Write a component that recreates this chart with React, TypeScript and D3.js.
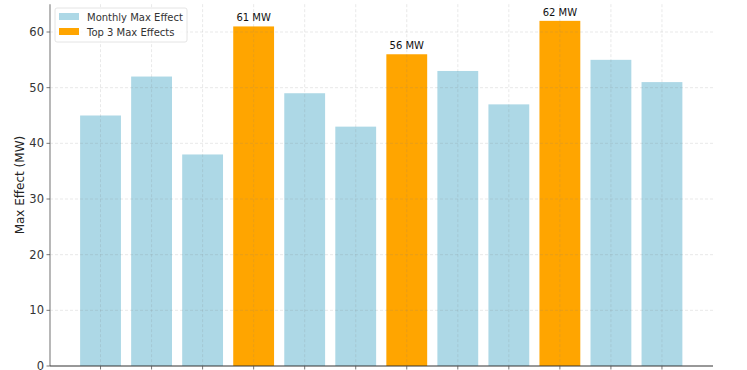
import React, { useEffect, useRef } from 'react';
import * as d3 from 'd3';

// Monthly max effect (MW)
const months = ['Jan', 'Feb', 'Mar', 'Apr', 'May', 'Jun', 'Jul', 'Aug', 'Sep', 'Oct', 'Nov', 'Dec'];
const maxEffect = [45, 52, 38, 61, 49, 43, 56, 53, 47, 62, 55, 51];
const yTicks = [0, 10, 20, 30, 40, 50, 60];

const BLUE = '#ADD8E6';
const ORANGE = '#FFA500';

const App: React.FC = () => {
  const svgRef = useRef<SVGSVGElement>(null);
  const width = 747;
  const height = 370;

  useEffect(() => {
    if (!svgRef.current) return;
    const svg = d3.select(svgRef.current);
    svg.selectAll('*').remove();

    const margin = { top: 4, right: 34, bottom: 4, left: 50 };
    const x0 = margin.left;
    const x1 = width - margin.right;
    const yBottom = height - margin.bottom;

    // top 3 indices
    const top3 = maxEffect
      .map((v, i) => ({ v, i }))
      .sort((a, b) => b.v - a.v)
      .slice(0, 3)
      .map(d => d.i);

    // matplotlib-like continuous x positions
    const x = d3.scaleLinear().domain([-0.99, 12]).range([x0, x1]);
    const step = x(1) - x(0);
    const barW = step * 0.8;

    const y = d3.scaleLinear().domain([0, 60]).range([yBottom, 32]);
    const yTop = y(65);

    const g = svg.append('g').attr('font-family', 'DejaVu Sans, sans-serif');

    // bars
    g.selectAll('rect.bar')
      .data(maxEffect)
      .enter()
      .append('rect')
      .attr('x', (_, i) => x(i) - barW / 2)
      .attr('width', barW)
      .attr('y', d => y(d))
      .attr('height', d => yBottom - y(d))
      .attr('fill', (_, i) => (top3.includes(i) ? ORANGE : BLUE));

    // grid
    const gridColor = 'rgba(130,130,130,0.22)';
    g.selectAll('line.hgrid')
      .data(yTicks.slice(1))
      .enter()
      .append('line')
      .attr('x1', x0)
      .attr('x2', x1)
      .attr('y1', d => y(d))
      .attr('y2', d => y(d))
      .attr('stroke', gridColor)
      .attr('stroke-width', 0.8)
      .attr('stroke-dasharray', '3,2');

    g.selectAll('line.vgrid')
      .data(months)
      .enter()
      .append('line')
      .attr('x1', (_, i) => x(i))
      .attr('x2', (_, i) => x(i))
      .attr('y1', yTop)
      .attr('y2', yBottom)
      .attr('stroke', gridColor)
      .attr('stroke-width', 0.8)
      .attr('stroke-dasharray', '3,2');

    // annotations for top 3
    g.selectAll('text.ann')
      .data(top3)
      .enter()
      .append('text')
      .attr('x', i => x(i))
      .attr('y', i => y(maxEffect[i]) - 5)
      .attr('text-anchor', 'middle')
      .attr('font-size', 10)
      .attr('fill', '#111')
      .text(i => `${maxEffect[i]} MW`);

    // spines
    g.append('line')
      .attr('x1', x0).attr('x2', x0)
      .attr('y1', yTop).attr('y2', yBottom)
      .attr('stroke', '#888').attr('stroke-width', 1.2);
    g.append('line')
      .attr('x1', x0).attr('x2', x1)
      .attr('y1', yBottom).attr('y2', yBottom)
      .attr('stroke', '#333').attr('stroke-width', 1.2);

    // y ticks
    const yt = g.selectAll('g.ytick').data(yTicks).enter().append('g');
    yt.append('line')
      .attr('x1', x0 - 3.5).attr('x2', x0)
      .attr('y1', d => y(d)).attr('y2', d => y(d))
      .attr('stroke', '#555').attr('stroke-width', 0.8);
    yt.append('text')
      .attr('x', x0 - 6)
      .attr('y', d => y(d))
      .attr('dy', '0.35em')
      .attr('text-anchor', 'end')
      .attr('font-size', 11.5)
      .attr('fill', '#333')
      .text(d => d);

    // x ticks
    g.selectAll('line.xtick')
      .data(months)
      .enter()
      .append('line')
      .attr('x1', (_, i) => x(i)).attr('x2', (_, i) => x(i))
      .attr('y1', yBottom).attr('y2', yBottom + 3.5)
      .attr('stroke', '#555').attr('stroke-width', 0.8);

    // y label
    g.append('text')
      .attr('transform', `translate(24,${(yTop + yBottom) / 2}) rotate(-90)`)
      .attr('text-anchor', 'middle')
      .attr('font-size', 12)
      .attr('fill', '#222')
      .text('Max Effect (MW)');

    // legend
    const lg = g.append('g').attr('transform', 'translate(55,8)');
    lg.append('rect')
      .attr('width', 132).attr('height', 34).attr('rx', 2)
      .attr('fill', 'rgba(255,255,255,0.8)')
      .attr('stroke', '#ddd').attr('stroke-width', 0.8);
    const items = [
      { label: 'Monthly Max Effect', color: BLUE },
      { label: 'Top 3 Max Effects', color: ORANGE }
    ];
    items.forEach((it, k) => {
      lg.append('rect')
        .attr('x', 4).attr('y', 5 + k * 15)
        .attr('width', 20).attr('height', 7)
        .attr('fill', it.color);
      lg.append('text')
        .attr('x', 32).attr('y', 9 + k * 15)
        .attr('dy', '0.35em')
        .attr('font-size', 10)
        .attr('fill', '#333')
        .text(it.label);
    });
  }, []);

  return (
    <svg
      ref={svgRef}
      width={width}
      height={height}
      style={{ position: 'absolute', left: 0, top: 0, background: '#fff' }}
    />
  );
};

export default App;
